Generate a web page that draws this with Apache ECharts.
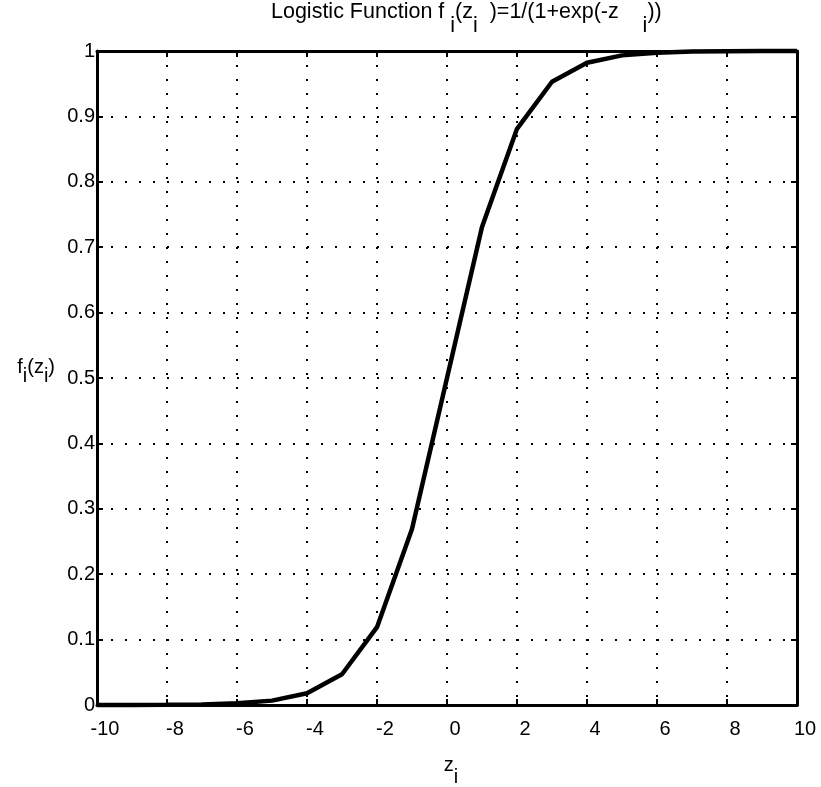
<!DOCTYPE html>
<html>
<head>
<meta charset="utf-8">
<script src="https://cdn.jsdelivr.net/npm/echarts@6/dist/echarts.min.js"></script>
<style>html,body{margin:0;padding:0;background:#fff}#c{width:821px;height:787px}</style>
</head>
<body>
<div id="c"></div>
<script>
const zValues = [-10, -9, -8, -7, -6, -5, -4, -3, -2, -1, 0, 1, 2, 3, 4, 5, 6, 7, 8, 9, 10];
const fValues = [0.00005, 0.0001, 0.0003, 0.0009, 0.0025, 0.0067, 0.018, 0.047, 0.119, 0.269, 0.5,
                 0.731, 0.881, 0.953, 0.982, 0.9933, 0.9975, 0.9991, 0.9997, 0.9999, 0.99995];
const xRange = [-10, 10];
const xStep = 2;
const yRange = [0, 1];
const yStep = 0.1;

const FONT = '"Liberation Sans", Arial, sans-serif';
function makeRich(size, subDrop) {
  return {
    m: { fontSize: size, lineHeight: Math.round(size + 4), verticalAlign: 'top', color: '#000', fontFamily: FONT },
    s: { fontSize: size, lineHeight: Math.round(size + 4), verticalAlign: 'top', padding: [subDrop, 0, 0, 0], color: '#000', fontFamily: FONT }
  };
}

const chart = echarts.init(document.getElementById('c'), null, { renderer: 'canvas' });
const axisLine = { show: true, onZero: false, lineStyle: { color: '#000', width: 3 } };
const axisTick = { show: true, inside: true, length: 6, lineStyle: { color: '#000', width: 2 } };
const splitLine = { show: true, lineStyle: { color: '#000', width: 2, type: [2, 12] } };

chart.setOption({
  animation: false,
  backgroundColor: '#fff',
  title: {
    text: '{m|Logistic Function f }{s|i}{m|(z}{s|i}{m|  )=1/(1+exp(-z    }{s|i}{m|))}',
    left: 271, top: 1, padding: 0,
    textStyle: { rich: makeRich(21.5, 14), fontWeight: 'normal' }
  },
  grid: { left: 97, right: 24, top: 51, bottom: 82, containLabel: false, outerBoundsMode: 'none' },
  xAxis: [{
    type: 'value', min: xRange[0], max: xRange[1], interval: xStep, position: 'bottom',
    axisLine: axisLine, axisTick: axisTick, splitLine: splitLine,
    axisLabel: { fontSize: 20, color: '#000', fontFamily: FONT, margin: 14, padding: [0, 0, 0, 16] },
    name: '{m|z}{s|i}', nameLocation: 'middle', nameGap: 50,
    nameTextStyle: { rich: makeRich(20, 12), padding: [0, 0, 0, 8] }
  }, {
    type: 'value', min: xRange[0], max: xRange[1], interval: xStep, position: 'top',
    axisLine: axisLine, axisTick: axisTick, splitLine: { show: false }, axisLabel: { show: false }
  }],
  yAxis: [{
    type: 'value', min: yRange[0], max: yRange[1], interval: yStep, position: 'left',
    axisLine: axisLine, axisTick: axisTick, splitLine: splitLine,
    axisLabel: { fontSize: 20, color: '#000', fontFamily: FONT, margin: 2 },
    name: '{m|f}{s|i}{m|(z}{s|i}{m|)}', nameLocation: 'middle', nameRotate: 0, nameGap: 42,
    nameTextStyle: { rich: makeRich(20, 9), padding: [0, 0, 17, 0] }
  }, {
    type: 'value', min: yRange[0], max: yRange[1], interval: yStep, position: 'right',
    axisLine: axisLine, axisTick: axisTick, splitLine: { show: false }, axisLabel: { show: false }
  }],
  series: [{
    type: 'line',
    data: zValues.map((z, i) => [z, fValues[i]]),
    showSymbol: false,
    lineStyle: { color: '#000', width: 4.5 },
    z: 10,
    clip: false
  }]
});
</script>
</body>
</html>
